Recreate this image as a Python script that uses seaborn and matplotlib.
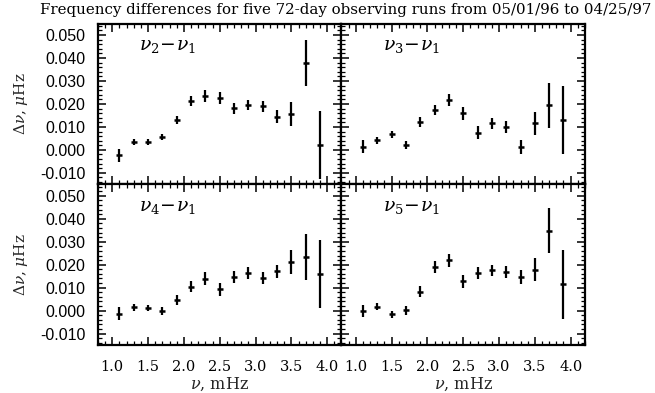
import numpy as np
import matplotlib
matplotlib.use("Agg")
import matplotlib.pyplot as plt
from matplotlib.ticker import MultipleLocator, FormatStrFormatter
import seaborn as sns

# Mode frequency (mHz) at which each difference is evaluated
freq = [1.1, 1.3, 1.5, 1.7, 1.9, 2.1, 2.3, 2.5, 2.7, 2.9, 3.1, 3.3, 3.5, 3.7, 3.9]

# Frequency differences (microHz) between runs and their 1-sigma errors
d21 = [-0.0024, 0.0035, 0.0035, 0.0055, 0.0130, 0.0213, 0.0234, 0.0226,
       0.0181, 0.0194, 0.0191, 0.0144, 0.0155, 0.0379, 0.0021]
e21 = [0.0027, 0.0012, 0.0012, 0.0014, 0.0018, 0.0021, 0.0025, 0.0027,
       0.0023, 0.0022, 0.0024, 0.0029, 0.0052, 0.0100, 0.0147]

d31 = [0.0014, 0.0042, 0.0068, 0.0022, 0.0123, 0.0173, 0.0216, 0.0159,
       0.0075, 0.0116, 0.0099, 0.0012, 0.0116, 0.0194, 0.0130]
e31 = [0.0027, 0.0016, 0.0016, 0.0017, 0.0022, 0.0023, 0.0026, 0.0029,
       0.0027, 0.0024, 0.0025, 0.0031, 0.0050, 0.0099, 0.0149]

d41 = [-0.0013, 0.0014, 0.0011, -0.0003, 0.0046, 0.0104, 0.0139, 0.0092,
       0.0146, 0.0165, 0.0143, 0.0172, 0.0211, 0.0234, 0.0160]
e41 = [0.0028, 0.0014, 0.0014, 0.0018, 0.0021, 0.0025, 0.0027, 0.0030,
       0.0027, 0.0026, 0.0025, 0.0028, 0.0052, 0.0099, 0.0147]

d51 = [-0.0002, 0.0017, -0.0016, 0.0001, 0.0082, 0.0191, 0.0219, 0.0127,
       0.0165, 0.0175, 0.0169, 0.0146, 0.0179, 0.0347, 0.0114]
e51 = [0.0027, 0.0015, 0.0016, 0.0020, 0.0023, 0.0027, 0.0027, 0.0030,
       0.0026, 0.0023, 0.0025, 0.0030, 0.0052, 0.0098, 0.0149]

panel_labels = [r"$\nu_2\!-\!\nu_1$", r"$\nu_3\!-\!\nu_1$",
                r"$\nu_4\!-\!\nu_1$", r"$\nu_5\!-\!\nu_1$"]
title = "Frequency differences for five 72-day observing runs from 05/01/96 to 04/25/97"

sns.set_style("ticks")
plt.rcParams["font.family"] = ["DejaVu Serif", "DejaVu Sans"]
plt.rcParams["mathtext.fontset"] = "dejavuserif"

fig = plt.figure(figsize=(6.55, 3.93), dpi=100)
axes = fig.subplots(2, 2, gridspec_kw=dict(left=0.1496, right=0.8931, top=0.940,
                                           bottom=0.122, wspace=0, hspace=0))

series = [(d21, e21), (d31, e31), (d41, e41), (d51, e51)]

for k, (ax, (d, e), lab) in enumerate(zip(axes.flat, series, panel_labels)):
    ax.errorbar(freq, d, yerr=e, fmt="none", ecolor="black",
                elinewidth=1.6, capsize=0, zorder=3)
    sns.scatterplot(x=freq, y=d, marker="_", s=24, color="black",
                    linewidth=1.8, ax=ax, zorder=4)

    ax.set_xlim(0.8, 4.2)
    ax.set_ylim(-0.015, 0.055)
    ax.xaxis.set_major_locator(MultipleLocator(0.5))
    ax.xaxis.set_minor_locator(MultipleLocator(0.1))
    ax.yaxis.set_major_locator(MultipleLocator(0.01))
    ax.yaxis.set_minor_locator(MultipleLocator(0.002))
    ax.xaxis.set_major_formatter(FormatStrFormatter("%.1f"))
    ax.yaxis.set_major_formatter(FormatStrFormatter("%.3f"))
    ax.tick_params(which="both", direction="in", top=True, right=True,
                   color="black", labelcolor="black")
    ax.tick_params(which="major", length=6, width=1.1)
    ax.tick_params(which="minor", length=3, width=0.9)
    for sp in ax.spines.values():
        sp.set_linewidth(1.6)
        sp.set_color("black")

    row, col = divmod(k, 2)
    if row == 0:
        ax.tick_params(labelbottom=False)
        ax.set_xlabel("")
    else:
        ax.tick_params(axis="x", which="major", pad=11)
        ax.set_xlabel(r"$\nu$, mHz", fontsize=11.5, labelpad=1)
        for t in ax.get_xticklabels():
            t.set_fontsize(10.5)
    if col == 1:
        ax.tick_params(labelleft=False)
        ax.set_ylabel("")
    else:
        ax.tick_params(axis="y", which="major", pad=9)
        ax.set_ylabel(r"$\Delta\nu$, $\mu$Hz", fontsize=11, labelpad=7)
        for t in ax.get_yticklabels():
            t.set_fontsize(11.5)
            t.set_family("Liberation Sans")

    ax.text(0.17, 0.86, lab, transform=ax.transAxes, fontsize=13.5,
            ha="left", va="center", color="black")

fig.text(0.528, 0.975, title, ha="center", va="center", fontsize=10.8,
         color="black")

fig.savefig("out.png", dpi=100, facecolor="white")
